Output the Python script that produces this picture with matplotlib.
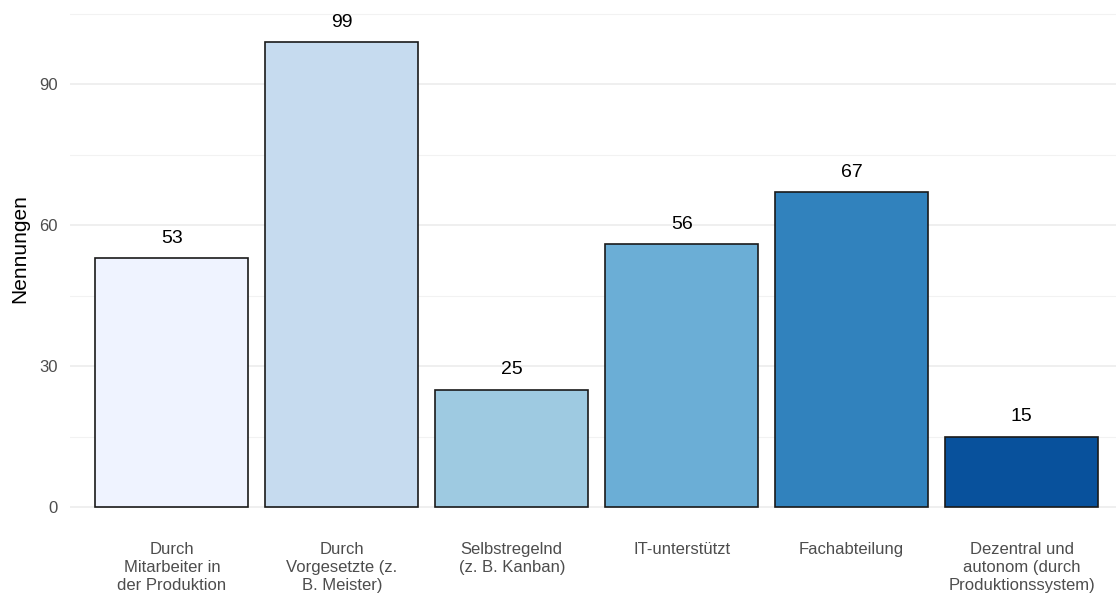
import matplotlib
matplotlib.use("Agg")
import matplotlib.pyplot as plt
from matplotlib.ticker import MultipleLocator

categories = ["Durch\nMitarbeiter in\nder Produktion",
              "Durch\nVorgesetzte (z.\nB. Meister)",
              "Selbstregelnd\n(z. B. Kanban)",
              "IT-unterstützt",
              "Fachabteilung",
              "Dezentral und\nautonom (durch\nProduktionssystem)"]
values = [53, 99, 25, 56, 67, 15]
colors = ["#EFF3FF", "#C6DBEF", "#9ECAE1", "#6BAED6", "#3182BD", "#08519C"]
y_ticks = [0, 30, 60, 90]

plt.rcParams['font.family'] = ['Liberation Sans', 'DejaVu Sans']

fig = plt.figure(figsize=(11.16, 5.98), dpi=100)
ax = fig.add_axes([70/1116, 67.5/598, 1 - 70/1116, (589.2 - 67.5)/598])

x = list(range(1, len(values) + 1))
ax.bar(x, values, width=0.9, color=colors, edgecolor="#1a1a1a", linewidth=1.2, zorder=3)
for xi, v in zip(x, values):
    ax.text(xi, v + 3.2, str(v), ha="center", va="baseline", fontsize=14, color="black", zorder=4)

ax.set_xlim(0.4, 6.556)
ax.set_ylim(-5, 106)
ax.set_yticks(y_ticks)
ax.yaxis.set_minor_locator(MultipleLocator(15))
ax.set_xticks(x)
ax.set_xticklabels(categories, fontsize=12, color="#4D4D4D", linespacing=1.22)
ax.tick_params(axis="x", length=0, pad=8.5)
ax.tick_params(axis="y", which="both", length=0, pad=9, labelsize=12, labelcolor="#4D4D4D")
ax.grid(axis="y", which="major", color="#EBEBEB", linewidth=1.1, zorder=0)
ax.grid(axis="y", which="minor", color="#F2F2F2", linewidth=0.8, zorder=0)
ax.grid(axis="x", visible=False)
for s in ax.spines.values():
    s.set_visible(False)
ax.set_ylabel("Nennungen", fontsize=15, color="black")
ax.yaxis.set_label_coords(-41/1046, 0.5396)

fig.savefig("out.png", dpi=100)
